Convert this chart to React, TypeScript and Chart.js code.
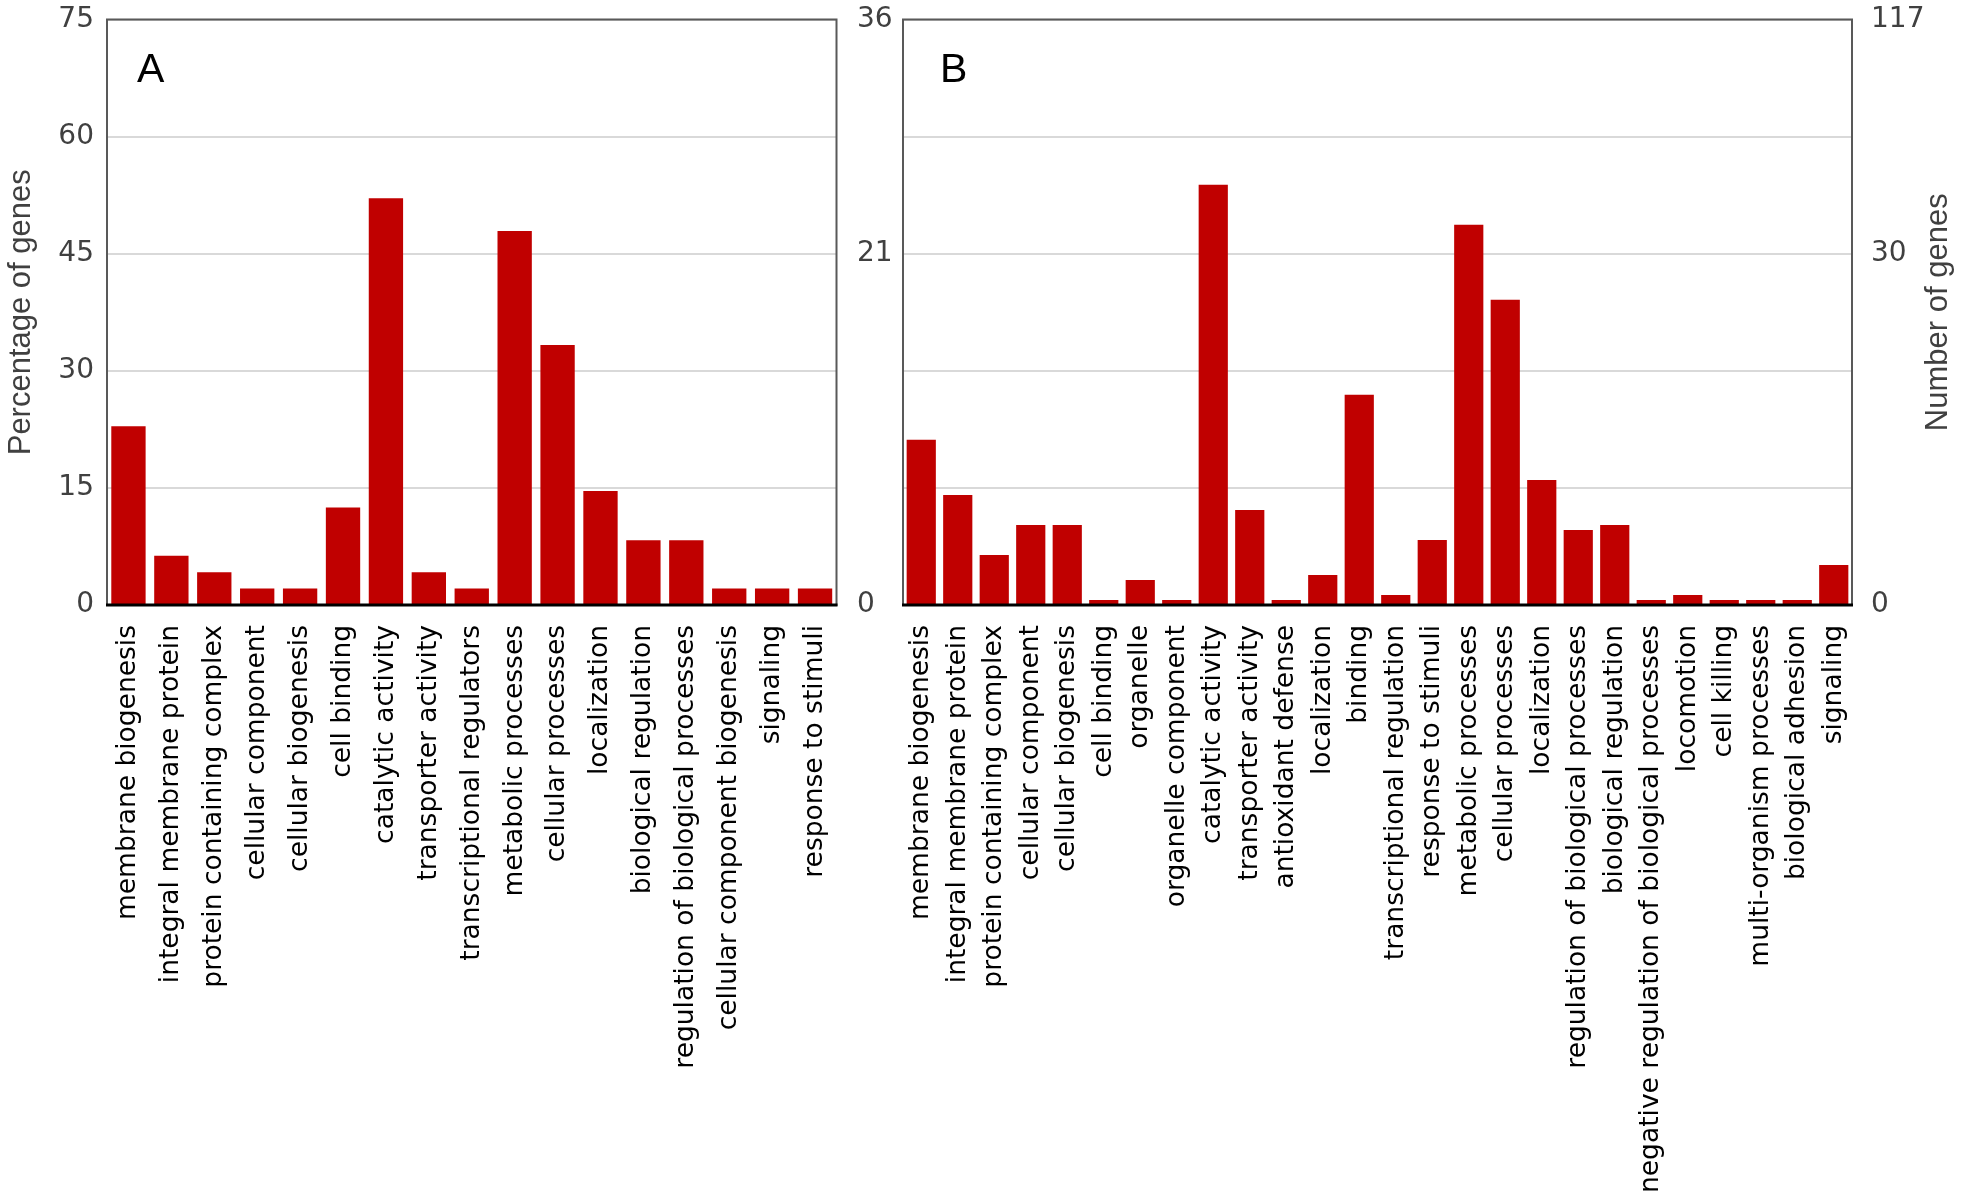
import React, { useEffect, useRef } from 'react';
import { Chart, registerables } from 'chart.js';

Chart.register(...registerables);

// ---------- DATA ----------
const categoriesA = [
  'membrane biogenesis',
  'integral membrane protein',
  'protein containing complex',
  'cellular component',
  'cellular biogenesis',
  'cell binding',
  'catalytic activity',
  'transporter activity',
  'transcriptional regulators',
  'metabolic processes',
  'cellular processes',
  'localization',
  'biological regulation',
  'regulation of biological processes',
  'cellular component biogenesis',
  'signaling',
  'response to stimuli',
];
// Percentage of genes (panel A)
const percentA = [22.9, 6.3, 4.2, 2.1, 2.1, 12.5, 52.1, 4.2, 2.1, 47.9, 33.3, 14.6, 8.3, 8.3, 2.1, 2.1, 2.1];

const categoriesB = [
  'membrane biogenesis',
  'integral membrane protein',
  'protein containing complex',
  'cellular component',
  'cellular biogenesis',
  'cell binding',
  'organelle',
  'organelle component',
  'catalytic activity',
  'transporter activity',
  'antioxidant defense',
  'localization',
  'binding',
  'transcriptional regulation',
  'response to stimuli',
  'metabolic processes',
  'cellular processes',
  'localization',
  'regulation of biological processes',
  'biological regulation',
  'negative regulation of biological processes',
  'locomotion',
  'cell killing',
  'multi-organism processes',
  'biological adhesion',
  'signaling',
];
// Number of genes (panel B, right axis)
const countsB = [33, 22, 10, 16, 16, 1, 5, 1, 84, 19, 1, 6, 42, 2, 13, 76, 61, 25, 15, 16, 1, 2, 1, 1, 1, 8];

const axisAMax = 75;
const axisAStep = 15;
const axisBLeftMax = 36;
const axisBRightMax = 117;
const bLeftTickLabels = ['0', '', '', '21', '', '36'];
const bRightTickLabels = ['0', '', '', '30', '', '117'];

const titleLeftA = 'Percentage of genes';
const titleRightB = 'Number of genes';

// ---------- STYLE ----------
const BAR = '#C00000';
const GRID = '#D9D9D9';
const TICK_COLOR = '#404040';
const TICK_FONT = { family: '"DejaVu Sans"', size: 28 };
const LABEL_FONT = { family: '"DejaVu Sans"', size: 26.5 };
const SHIFT = 40; // canvases start above the page so tick overflow never pushes the plot down
const CANVAS_H = 1191 + SHIFT;

const decorPlugin = {
  id: 'decor',
  afterDatasetsDraw(chart: any, _args: any, opts: any) {
    const { ctx, chartArea } = chart;
    const { left, top, right, bottom } = chartArea;
    ctx.save();
    ctx.strokeStyle = '#595959';
    ctx.lineWidth = 2;
    ctx.strokeRect(left, top, right - left, bottom - top);
    ctx.strokeStyle = '#000000';
    ctx.lineWidth = 3;
    ctx.beginPath();
    ctx.moveTo(left - 1, bottom);
    ctx.lineTo(right + 1, bottom);
    ctx.stroke();
    if (opts.letter) {
      ctx.fillStyle = '#000000';
      ctx.font = '41px "Liberation Sans"';
      ctx.textAlign = 'left';
      ctx.textBaseline = 'alphabetic';
      ctx.fillText(opts.letter, left + opts.letterDx, top + 62.5);
    }
    const cy = (top + bottom) / 2;
    (opts.titles || []).forEach((t: any) => {
      ctx.save();
      ctx.translate(t.x, cy);
      ctx.rotate(-Math.PI / 2);
      ctx.fillStyle = '#404040';
      ctx.font = '31px "Liberation Sans"';
      ctx.textAlign = 'center';
      ctx.textBaseline = 'middle';
      ctx.fillText(t.text, 0, 0);
      ctx.restore();
    });
    ctx.restore();
  },
};

const xScale = (height: number) => ({
  type: 'category' as const,
  grid: { display: false, drawTicks: false },
  border: { display: false },
  ticks: {
    autoSkip: false,
    maxRotation: 90,
    minRotation: 90,
    padding: 20,
    color: '#000000',
    font: LABEL_FONT,
  },
  afterFit: (s: any) => {
    s.height = height;
  },
});

export default function App() {
  const refA = useRef<HTMLCanvasElement>(null);
  const refB = useRef<HTMLCanvasElement>(null);

  useEffect(() => {
    const chartA = new Chart(refA.current!, {
      type: 'bar',
      data: {
        labels: categoriesA,
        datasets: [
          {
            data: percentA,
            backgroundColor: BAR,
            borderWidth: 0,
            barPercentage: 0.8,
            categoryPercentage: 1,
          },
        ],
      },
      options: {
        responsive: false,
        animation: false,
        devicePixelRatio: 1,
        layout: { padding: { top: 19.5 + SHIFT, right: 43.5, left: 0, bottom: 0 } },
        plugins: {
          legend: { display: false },
          tooltip: { enabled: false },
          decor: { letter: 'A', letterDx: 30, titles: [{ text: titleLeftA, x: 21 }] },
        } as any,
        scales: {
          x: xScale(586),
          y: {
            type: 'linear',
            min: 0,
            max: axisAMax,
            grid: { color: GRID, lineWidth: 2, drawTicks: false },
            border: { display: false },
            ticks: { stepSize: axisAStep, padding: 13, color: TICK_COLOR, font: TICK_FONT },
            afterFit: (s: any) => {
              s.width = 107;
            },
          },
        },
      } as any,
      plugins: [decorPlugin],
    });

    const chartB = new Chart(refB.current!, {
      type: 'bar',
      data: {
        labels: categoriesB,
        datasets: [
          {
            data: countsB,
            yAxisID: 'yR',
            backgroundColor: BAR,
            borderWidth: 0,
            barPercentage: 0.8,
            categoryPercentage: 1,
          },
        ],
      },
      options: {
        responsive: false,
        animation: false,
        devicePixelRatio: 1,
        layout: { padding: { top: 19.5 + SHIFT, right: 0, left: 12, bottom: 0 } },
        plugins: {
          legend: { display: false },
          tooltip: { enabled: false },
          decor: { letter: 'B', letterDx: 37, titles: [{ text: titleRightB, x: 1093 }] },
        } as any,
        scales: {
          x: xScale(586),
          yL: {
            type: 'linear',
            position: 'left',
            min: 0,
            max: axisBLeftMax,
            grid: { display: false, drawTicks: false },
            border: { display: false },
            ticks: {
              stepSize: axisBLeftMax / 5,
              padding: 0,
              crossAlign: 'far',
              color: TICK_COLOR,
              font: TICK_FONT,
              callback: (_v: any, i: number) => bLeftTickLabels[i] ?? '',
            },
            afterFit: (s: any) => {
              s.width = 46;
            },
          },
          yR: {
            type: 'linear',
            position: 'right',
            min: 0,
            max: axisBRightMax,
            grid: { color: GRID, lineWidth: 2, drawTicks: false },
            border: { display: false },
            ticks: {
              stepSize: axisBRightMax / 5,
              padding: 19,
              color: TICK_COLOR,
              font: TICK_FONT,
              callback: (_v: any, i: number) => bRightTickLabels[i] ?? '',
            },
            afterFit: (s: any) => {
              s.width = 109;
            },
          },
        },
      } as any,
      plugins: [decorPlugin],
    });

    return () => {
      chartA.destroy();
      chartB.destroy();
    };
  }, []);

  return (
    <div
      style={{
        position: 'fixed',
        left: 0,
        top: 0,
        width: 1961,
        height: 1191,
        background: '#ffffff',
        overflow: 'hidden',
      }}
    >
      <canvas ref={refA} width={880} height={CANVAS_H} style={{ position: 'absolute', left: 0, top: -SHIFT }} />
      <canvas ref={refB} width={1116} height={CANVAS_H} style={{ position: 'absolute', left: 845, top: -SHIFT }} />
    </div>
  );
}
